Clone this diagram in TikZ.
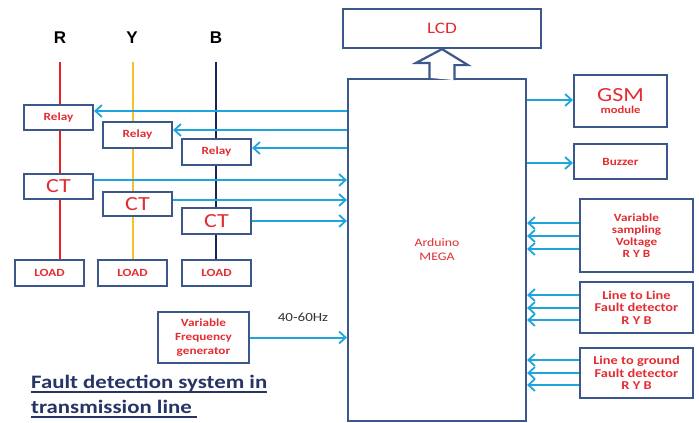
\documentclass[tikz,border=0pt]{standalone}
\usepackage{fontspec}
\setmainfont{Carlito}[FakeStretch=1.2]
\newfontfamily\arialfont{Liberation Sans}
\usetikzlibrary{arrows.meta}
\definecolor{boxc}{RGB}{60,88,138}
\definecolor{arrc}{RGB}{30,165,222}
\definecolor{redc}{RGB}{226,45,50}
\definecolor{linR}{RGB}{232,32,32}
\definecolor{linY}{RGB}{245,192,40}
\definecolor{linB}{RGB}{25,35,90}
\definecolor{titlec}{RGB}{38,52,102}
\begin{document}
\begin{tikzpicture}[x=1pt,y=-1pt,
  box/.style={draw=boxc, line width=2.2pt, fill=white, inner sep=0pt, align=center,
    text=redc, font=\bfseries\fontsize{11}{12}\selectfont},
  ctbox/.style={box, font=\fontsize{20}{20}\selectfont},
  arr/.style={draw=arrc, line width=2pt, -{Straight Barb[length=6.5pt,width=12pt,line width=1.8pt]}},
  phase/.style={line width=2.6pt},
  lbl/.style={font=\arialfont\bfseries\fontsize{17}{17}\selectfont, text=black}
]
\useasboundingbox[fill=white] (0,0) rectangle (699,423);

% phase labels
\node[lbl] (lR) at (60,38) {R};
\node[lbl] (lY) at (132,38) {Y};
\node[lbl] (lB) at (216,38) {B};
\coordinate (Rtop) at (60,62);
\coordinate (Ytop) at (133,62);
\coordinate (Btop) at (216,62);

% loads
\node[box, minimum width=69pt, minimum height=26pt] (loadR) at (49.5,273) {LOAD};
\node[box, minimum width=69pt, minimum height=26pt] (loadY) at (132.5,273) {LOAD};
\node[box, minimum width=69pt, minimum height=26pt] (loadB) at (216.5,273) {LOAD};

% phase lines
\draw[phase, linR] (Rtop) -- (Rtop |- loadR.north);
\draw[phase, linY] (Ytop) -- (Ytop |- loadY.north);
\draw[phase, linB] (Btop) -- (Btop |- loadB.north);

% relays and CTs
\node[box, minimum width=69pt, minimum height=25pt] (relayR) at (58.5,117.5) {Relay};
\node[box, minimum width=69pt, minimum height=26pt] (relayY) at (137.5,135) {Relay};
\node[box, minimum width=69pt, minimum height=26pt] (relayB) at (216.5,152) {Relay};
\node[ctbox, minimum width=69pt, minimum height=25pt] (ctR) at (58.5,186.5) {CT};
\node[ctbox, minimum width=69pt, minimum height=24pt] (ctY) at (137.5,204) {CT};
\node[ctbox, minimum width=69pt, minimum height=26pt] (ctB) at (216.5,221) {CT};

% central boxes
\node[box, minimum width=178pt, minimum height=342pt, font=\fontsize{11.5}{14}\selectfont] (ard) at (437,250) {Arduino\\MEGA};
\node[box, minimum width=198pt, minimum height=39pt, font=\fontsize{16}{16}\selectfont] (lcd) at (442,28.5) {LCD};

% hollow arrow to LCD
\coordinate (hb) at (lcd.south |- ard.north);
\draw[draw=boxc, line width=2.2pt, fill=white, line join=miter]
  ([xshift=-12.5pt]hb) -- ++(0,-15) -- ++(-13.5,0) -- (lcd.south) -- ++(26,16) -- ++(-13.5,0) -- ++(0,15);

% right boxes
\node[box, minimum width=93pt, minimum height=52pt] (gsm) at (620.5,101)
  {{\fontsize{20}{18}\selectfont\mdseries GSM}\\{\fontsize{10.5}{11}\selectfont module}};
\node[box, minimum width=93pt, minimum height=35pt] (buz) at (620.5,161.5) {Buzzer};
\node[box, minimum width=113pt, minimum height=73pt, font=\bfseries\fontsize{11}{12}\selectfont] (samp) at (636.5,235.5)
  {Variable\\sampling\\Voltage\\R Y B};
\node[box, minimum width=113pt, minimum height=51pt, font=\bfseries\fontsize{12}{12.7}\selectfont] (ll) at (636.5,307.5)
  {Line to Line\\Fault detector\\R Y B};
\node[box, minimum width=113pt, minimum height=50pt, font=\bfseries\fontsize{12}{12.7}\selectfont] (lg) at (636.5,373)
  {Line to ground\\Fault detector\\R Y B};

% frequency generator
\node[box, minimum width=91pt, minimum height=51pt, font=\bfseries\fontsize{11}{14}\selectfont] (vfg) at (203.5,337.5)
  {Variable\\Frequency\\generator};
\node[font=\fontsize{12.5}{13}\selectfont, text=black!80] (freq) at (303,317) {40-60Hz};

% arrows to relays
\draw[arr] (ard.west |- 0,111) -- (relayR.east |- 0,111);
\draw[arr] (ard.west |- 0,130) -- (relayY.east |- 0,130);
\draw[arr] (ard.west |- 0,148) -- (relayB.east |- 0,148);
% arrows from CTs
\draw[arr] (ctR.east |- 0,180) -- (ard.west |- 0,180);
\draw[arr] (ctY.east |- 0,200) -- (ard.west |- 0,200);
\draw[arr] (ctB.east |- 0,221) -- (ard.west |- 0,221);
\draw[arr] (vfg.east) -- (ard.west |- vfg.east);

% right side arrows
\draw[arr] (ard.east |- 0,100) -- (gsm.west |- 0,100);
\draw[arr] (ard.east |- 0,163) -- (buz.west |- 0,163);
\foreach \yy in {223,236,249}{\draw[arr] (samp.west |- 0,\yy) -- (ard.east |- 0,\yy);}
\foreach \yy in {295,308,320}{\draw[arr] (ll.west |- 0,\yy) -- (ard.east |- 0,\yy);}
\foreach \yy in {360,373,385}{\draw[arr] (lg.west |- 0,\yy) -- (ard.east |- 0,\yy);}

% title
\node[anchor=base west, inner sep=0pt, text=titlec, font=\bfseries\fontsize{19}{22}\selectfont] (t1) at (31,388) {Fault detection system in};
\node[anchor=base west, inner sep=0pt, text=titlec, font=\bfseries\fontsize{19}{22}\selectfont] (t2) at (31,413) {transmission line};
\draw[titlec, line width=1.2pt] ([yshift=-4pt]t1.base west) -- ([yshift=-4pt]t1.base east);
\draw[titlec, line width=1.2pt] ([yshift=-4pt]t2.base west) -- ([xshift=5pt,yshift=-4pt]t2.base east);
\end{tikzpicture}
\end{document}
